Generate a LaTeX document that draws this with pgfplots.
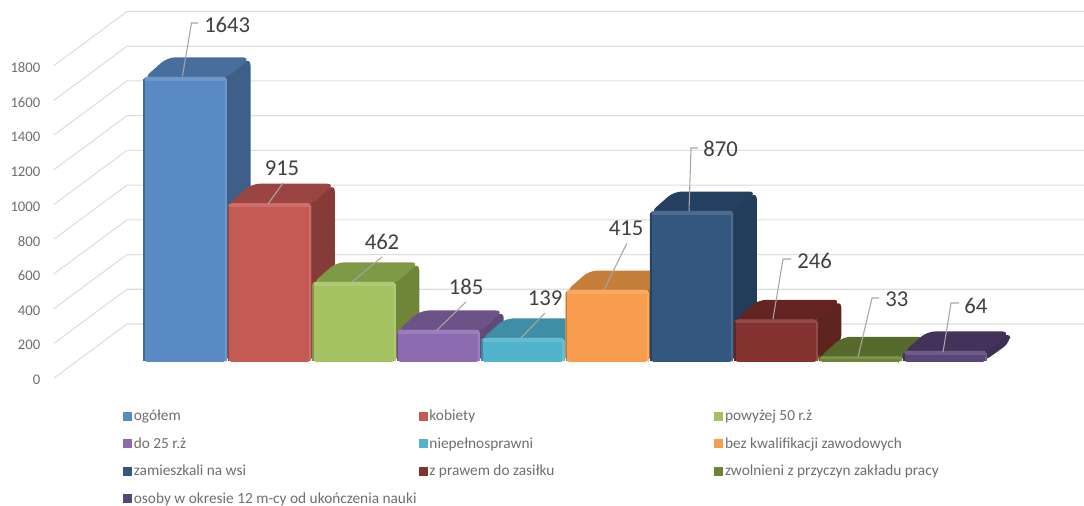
\documentclass[border=0pt]{standalone}
\usepackage{fontspec}
\setmainfont{Carlito}
\usepackage{pgfplots}
\pgfplotsset{compat=1.18}
\definecolor{gridc}{HTML}{DDDDDD}
\definecolor{leadc}{HTML}{A6A6A6}
\definecolor{labc}{HTML}{404040}
\definecolor{tickc}{HTML}{6E6E6E}
% front, top and side of each bar
\definecolor{fa}{HTML}{5A8AC3}\definecolor{ta}{HTML}{476E9C}\definecolor{sa}{HTML}{3E5F87}
\definecolor{fb}{HTML}{C55A55}\definecolor{tb}{HTML}{9A4542}\definecolor{sb}{HTML}{873B38}
\definecolor{fc}{HTML}{A5C263}\definecolor{tc}{HTML}{7F9A47}\definecolor{sc}{HTML}{6F8638}
\definecolor{fd}{HTML}{8C6BB0}\definecolor{td}{HTML}{6C5287}\definecolor{sd}{HTML}{5F4A7A}
\definecolor{fe}{HTML}{51B3CC}\definecolor{te}{HTML}{3E8EA6}\definecolor{se}{HTML}{377F95}
\definecolor{ff}{HTML}{F89D4D}\definecolor{tf}{HTML}{C67F3B}\definecolor{sf}{HTML}{B06F32}
\definecolor{fg}{HTML}{345780}\definecolor{tg}{HTML}{243F60}\definecolor{sg}{HTML}{233C5A}
\definecolor{fh}{HTML}{843230}\definecolor{th}{HTML}{642421}\definecolor{sh}{HTML}{5E2420}
\definecolor{fi}{HTML}{6D8438}\definecolor{ti}{HTML}{566A2C}\definecolor{si}{HTML}{4C5E27}
\definecolor{fj}{HTML}{5A4577}\definecolor{tj}{HTML}{43325A}\definecolor{sj}{HTML}{3E2F55}
% 1 px = 0.75 pt, data x unit = 84.4 px, data y unit = 0.1736 px
\def\xp#1{((#1-185.2)/84.4)}
\def\yp#1{((362-#1)/.1736)}
\pgfplotsset{frontbar/.style={ybar,bar width=62.6pt,bar shift=0pt,draw=none,rounded corners=3pt,
  legend image code/.code={\fill[##1,rounded corners=0pt] (0pt,-3.4pt) rectangle (6.8pt,3.4pt);}}}
% one bar: position, value, colour letter, legend text
\newcommand\onebar[4]{
  \addplot[fill=s#3,draw=none,rounded corners=6pt,forget plot] coordinates {(#1+.45,0) (#1+.774,112) (#1+.774,#2+112) (#1+.45,#2)} --cycle;
  \addplot[fill=t#3,draw=none,rounded corners=6pt,forget plot] coordinates {(#1-.494,{#2-10}) (#1-.21,#2+112) (#1+.774,#2+112) (#1+.49,{#2-10})} --cycle;
  \addplot[frontbar,fill=f#3] coordinates {(#1,#2)};
  \addlegendentry{\makebox[212.1pt][l]{#4}}
  \addplot[fill=f#3!88!white,draw=none,rounded corners=3pt,forget plot] coordinates {({#1-.494},#2) ({#1+.494},#2) ({#1+.494},{#2-min(40,#2/2)}) ({#1-.494},{#2-min(40,#2/2)})} --cycle;
  \addplot[fill=f#3,draw=none,forget plot] coordinates {({#1-.475},{#2-min(52,#2*.7)}) ({#1+.475},{#2-min(52,#2*.7)}) ({#1+.475},{#2-min(24,#2*.4)}) ({#1-.475},{#2-min(24,#2*.4)})} --cycle;
  \addplot[fill=f#3!76!black,draw=none,forget plot] coordinates {({#1-.494},3) ({#1-.475},3) ({#1-.475},{#2-min(14,#2*.2)}) ({#1-.494},{#2-min(14,#2*.2)})} --cycle;
  \addplot[fill=f#3!88!white,draw=none,forget plot] coordinates {({#1+.47},3) ({#1+.494},3) ({#1+.494},{#2-min(14,#2*.2)}) ({#1+.47},{#2-min(14,#2*.2)})} --cycle;
}
\newcommand\leader[1]{\draw[leadc,line width=.8pt] #1;}
\newcommand\px[2]{(axis cs:{\xp{#1}},{\yp{#2}})}
\newcommand\lab[4]{\node[labc,font=\fontsize{17}{20}\selectfont,inner sep=0pt,anchor=#3] at \px{#1}{#2} {#4};}
\begin{document}
\begin{tikzpicture}
\clip (0,0) rectangle (813pt,379.5pt);
\begin{axis}[
  at={(0,0)},anchor=south west,
  scale only axis,width=813pt,height=379.5pt,
  xmin=-2.194,xmax=10.649,ymin=-829.5,ymax=2085.3,
  axis line style={draw=none},
  xtick=\empty,
  ytick={-92.2,107.8,307.8,507.8,707.8,907.8,1107.8,1307.8,1507.8,1707.8},
  yticklabels={0,200,400,600,800,1000,1200,1400,1600,1800},
  ytick pos=left,
  major tick length=0pt,
  yticklabel style={anchor=east,xshift=33.75pt,yshift=-1.5pt,text=tickc,font=\fontsize{11}{13}\selectfont},
  legend columns=3,
  legend cell align=left,
  legend style={at={(rel axis cs:0.1134,0.1937)},anchor=north west,draw=none,fill=none,
    font=\fontsize{11.5}{13}\selectfont,text=tickc,inner sep=0pt,outer sep=0pt,
    row sep=8.4pt,
    nodes={inner sep=1.4pt}},
]
% wall grid, one line per tick
\pgfplotsinvokeforeach{0,200,400,600,800,1000,1200,1400,1600,1800}{
  \addplot[gridc,line width=.8pt,forget plot] coordinates {(-1.554,{#1-92.2}) (-.690,{#1+218.9}) (10.649,{#1+218.9})};
}
\onebar{0}{1643}{a}{ogółem}
\onebar{1}{915}{b}{kobiety}
\onebar{2}{462}{c}{powyżej 50 r.ż}
\onebar{3}{185}{d}{do 25 r.ż}
\onebar{4}{139}{e}{niepełnosprawni}
\onebar{5}{415}{f}{bez kwalifikacji zawodowych}
\onebar{6}{870}{g}{zamieszkali na wsi}
\onebar{7}{246}{h}{z prawem do zasiłku}
\onebar{8}{33}{i}{zwolnieni z przyczyn zakładu pracy}
\onebar{9}{64}{j}{osoby w okresie 12 m-cy od ukończenia nauki}
% leaders and value labels
\leader{\px{182.5}{76} -- \px{191.5}{23} -- \px{198}{23}}
\leader{\px{268}{204} -- \px{283}{183}}
\leader{\px{352}{282} -- \px{382}{257}}
\leader{\px{436}{331} -- \px{466}{302}}
\leader{\px{520}{339} -- \px{545}{313}}
\leader{\px{604}{290} -- \px{627}{243}}
\leader{\px{689}{211} -- \px{691}{148} -- \px{698}{148}}
\leader{\px{773}{319} -- \px{783}{259} -- \px{791}{259}}
\leader{\px{858}{357} -- \px{872}{298} -- \px{879}{298}}
\leader{\px{943}{352} -- \px{951}{303} -- \px{959}{303}}
\lab{204}{25}{west}{1643}
\lab{282}{168}{center}{915}
\lab{382}{242}{center}{462}
\lab{466}{287}{center}{185}
\lab{545}{298}{center}{139}
\lab{626}{228}{center}{415}
\lab{703}{149}{west}{870}
\lab{797}{261}{west}{246}
\lab{885}{299}{west}{33}
\lab{964}{306}{west}{64}
\end{axis}
\end{tikzpicture}
\end{document}
